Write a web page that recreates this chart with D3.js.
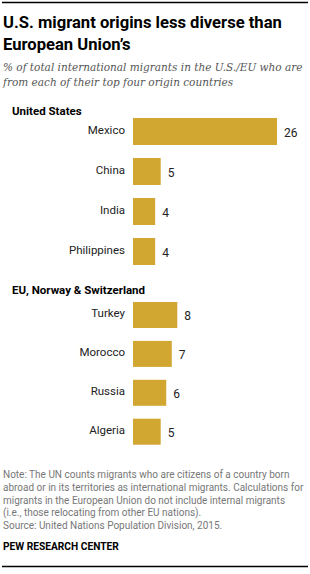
<!DOCTYPE html>
<html>
<head>
<meta charset="utf-8">
<script src="https://cdn.jsdelivr.net/npm/d3@7"></script>
<style>
  body { margin: 0; background: #fff; }
  svg { display: block; }
</style>
</head>
<body>
<svg></svg>
<script>
// US vs EU migrant origins, horizontal bars in two groups

const width = 310;
const height = 574;

const usCountries = ["Mexico", "China", "India", "Philippines"];
const usValues = [26, 5, 4, 4];
const euCountries = ["Turkey", "Morocco", "Russia", "Algeria"];
const euValues = [8, 7, 6, 5];

const titleLines = ["U.S. migrant origins less diverse than", "European Union\u2019s"];
const subtitleLines = [
  "% of total international migrants in the U.S./EU who are",
  "from each of their top four origin countries",
];
const noteLines = [
  "Note: The UN counts migrants who are citizens of a country born",
  "abroad or in its territories as international migrants. Calculations for",
  "migrants in the European Union do not include internal migrants",
  "(i.e., those relocating from other EU nations).",
  "Source: United Nations Population Division, 2015.",
];

const barColor = "#d1a631";
const sans = "Roboto, 'Liberation Sans', Arial, sans-serif";

const svg = d3.select("svg").attr("width", width).attr("height", height);

svg.append("line")
  .attr("x1", 2).attr("x2", 308).attr("y1", 2.5).attr("y2", 2.5)
  .attr("stroke", "#000").attr("stroke-width", 1.5);

svg.append("g")
  .selectAll("text")
  .data(titleLines)
  .enter()
  .append("text")
  .attr("x", 3)
  .attr("y", (d, i) => 28 + i * 21.5)
  .style("font-family", sans)
  .style("font-weight", "bold")
  .style("font-size", "16.6px")
  .style("fill", "#000")
  .text((d) => d);

svg.append("g")
  .selectAll("text")
  .data(subtitleLines)
  .enter()
  .append("text")
  .attr("x", 3)
  .attr("y", (d, i) => 71 + i * 15)
  .style("font-family", "Georgia, 'DejaVu Serif', serif")
  .style("font-style", "italic")
  .style("font-size", "10.5px")
  .style("fill", "#555")
  .text((d) => d);

const xScale = d3.scaleLinear().domain([0, 26]).range([0, 144]);
const barLeft = 133;

const drawGroup = (title, titleY, countries, values, top, step, barH) => {
  svg.append("text")
    .attr("x", 12)
    .attr("y", titleY)
    .style("font-family", sans)
    .style("font-weight", "bold")
    .style("font-size", "11.5px")
    .style("fill", "#000")
    .text(title);

  const yScale = d3.scaleBand()
    .domain(countries)
    .range([top, top + step * countries.length - (step - barH)])
    .paddingInner((step - barH) / step)
    .paddingOuter(0);

  const data = countries.map((c, i) => ({ name: c, value: values[i] }));
  const g = svg.append("g");

  g.selectAll("rect")
    .data(data)
    .enter()
    .append("rect")
    .attr("x", barLeft)
    .attr("y", (d) => yScale(d.name))
    .attr("width", (d) => xScale(d.value))
    .attr("height", yScale.bandwidth())
    .attr("fill", barColor);

  g.selectAll(".cat")
    .data(data)
    .enter()
    .append("text")
    .attr("class", "cat")
    .attr("x", barLeft - 8)
    .attr("y", (d) => yScale(d.name) + yScale.bandwidth() / 2 - 2)
    .attr("dy", "0.35em")
    .attr("text-anchor", "end")
    .style("font-family", sans)
    .style("font-size", "11.5px")
    .style("fill", "#222")
    .text((d) => d.name);

  g.selectAll(".val")
    .data(data)
    .enter()
    .append("text")
    .attr("class", "val")
    .attr("x", (d) => barLeft + xScale(d.value) + 7)
    .attr("y", (d) => yScale(d.name) + yScale.bandwidth() / 2 + 1)
    .attr("dy", "0.35em")
    .style("font-family", sans)
    .style("font-size", "12px")
    .style("fill", "#222")
    .text((d) => d.value);
};

drawGroup("United States", 115, usCountries, usValues, 118, 40, 27);
drawGroup("EU, Norway & Switzerland", 294, euCountries, euValues, 302, 38.9, 26);

svg.append("g")
  .selectAll("text")
  .data(noteLines)
  .enter()
  .append("text")
  .attr("x", 3)
  .attr("y", (d, i) => 478 + i * 12.8)
  .style("font-family", sans)
  .style("font-size", "10px")
  .style("fill", "#777")
  .text((d) => d);

svg.append("text")
  .attr("x", 3)
  .attr("y", 550)
  .style("font-family", sans)
  .style("font-weight", "bold")
  .style("font-size", "10.2px")
  .style("fill", "#000")
  .text("PEW RESEARCH CENTER");

svg.append("line")
  .attr("x1", 2).attr("x2", 308).attr("y1", 566.5).attr("y2", 566.5)
  .attr("stroke", "#000").attr("stroke-width", 1.5);
</script>
</body>
</html>
